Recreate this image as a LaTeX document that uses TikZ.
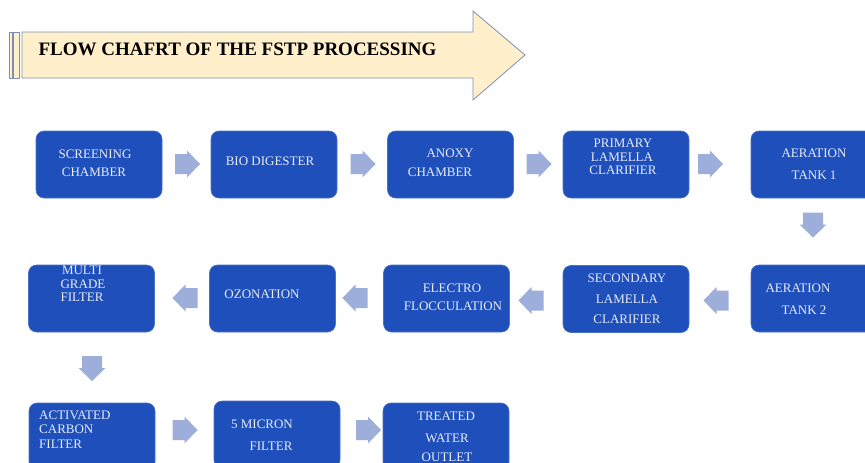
\documentclass[tikz,border=0pt]{standalone}
\usepackage{fontspec}
\setmainfont{Liberation Serif}
\definecolor{boxblue}{HTML}{1E4FBA}
\definecolor{boxedge}{HTML}{4A72C8}
\definecolor{arrfill}{HTML}{9DAEDA}
\definecolor{cream}{HTML}{FFEFCA}
\definecolor{titleedge}{HTML}{7C90B6}
\definecolor{boxtext}{HTML}{E8ECF7}
\tikzset{
  blockarr/.pic={\fill[arrfill] (-12.5,-10) -- (-0.5,-10) -- (-0.5,-13.5) -- (12.5,0) -- (-0.5,13.5) -- (-0.5,10) -- (-12.5,10) -- cycle;},
  procbox/.style={draw=boxedge, line width=0.6pt, fill=boxblue, rounded corners=8pt, minimum width=126pt, minimum height=67pt, inner sep=0pt},
  lbl/.style={text=boxtext, font=\fontsize{13}{15}\selectfont, inner sep=0pt},
  titleshape/.style={draw=titleedge, fill=cream, line width=0.8pt}
}
\begin{document}
\begin{tikzpicture}[x=1pt,y=-1pt]
\useasboundingbox[fill=white] (0,0) rectangle (865,463);
% title arrow
\draw[titleshape] (9,32) rectangle (12.3,78);
\draw[titleshape] (13.6,32) rectangle (19,78);
\draw[titleshape] (22,32) -- (473,32) -- (473,11) -- (525,55) -- (473,100) -- (473,78) -- (22,78) -- cycle;
\node[font=\bfseries\fontsize{19}{22}\selectfont, inner sep=0pt] (title) at (237.5,49.5) {FLOW CHAFRT OF THE FSTP PROCESSING};
% boxes
\node[procbox] (scr) at (99,164.5) {};
\node[procbox] (bio) at (274,164.5) {};
\node[procbox] (anx) at (450.5,164.5) {};
\node[procbox] (pri) at (626,164.5) {};
\node[procbox] (ae1) at (814,164.5) {};
\node[procbox] (ae2) at (814,298.5) {};
\node[procbox] (sec) at (626,299) {};
\node[procbox] (ele) at (446.5,298.5) {};
\node[procbox] (ozo) at (272.5,298.5) {};
\node[procbox] (mul) at (91.5,298.5) {};
\node[procbox] (act) at (92,436.5) {};
\node[procbox] (mic) at (277,434.5) {};
\node[procbox] (tre) at (446,436.5) {};
% labels
\node[lbl] (scr1) at (95,154) {SCREENING};
\node[lbl] (scr2) at (94,172) {CHAMBER};
\node[lbl] (bio1) at (270,161) {BIO DIGESTER};
\node[lbl] (anx1) at (450,153) {ANOXY};
\node[lbl] (anx2) at (440,172) {CHAMBER};
\node[lbl] (pri1) at (623,143) {PRIMARY};
\node[lbl] (pri2) at (622,157) {LAMELLA};
\node[lbl] (pri3) at (623,170) {CLARIFIER};
\node[lbl] (ae11) at (814,153) {AERATION};
\node[lbl] (ae12) at (814,175) {TANK 1};
\node[lbl] (ae21) at (798,288) {AERATION};
\node[lbl] (ae22) at (804,310) {TANK 2};
\node[lbl] (sec1) at (627,278) {SECONDARY};
\node[lbl] (sec2) at (627,299) {LAMELLA};
\node[lbl] (sec3) at (627,319) {CLARIFIER};
\node[lbl] (ele1) at (452,288) {ELECTRO};
\node[lbl] (ele2) at (453,306) {FLOCCULATION};
\node[lbl] (ozo1) at (262,294) {OZONATION};
\node[lbl] (mul1) at (82,270) {MULTI};
\node[lbl] (mul2) at (83,284) {GRADE};
\node[lbl] (mul3) at (82,297) {FILTER};
\node[lbl, anchor=west] (act1) at (39,415) {ACTIVATED};
\node[lbl, anchor=west] (act2) at (39,429) {CARBON};
\node[lbl, anchor=west] (act3) at (39,444) {FILTER};
\node[lbl] (mic1) at (262,424) {5 MICRON};
\node[lbl] (mic2) at (271,446) {FILTER};
\node[lbl] (tre1) at (446,416) {TREATED};
\node[lbl] (tre2) at (447,438) {WATER};
\node[lbl] (tre3) at (447,457.5) {OUTLET};
% block arrows
\pic at (187.5,164) {blockarr};
\pic at (363,164) {blockarr};
\pic at (539,164) {blockarr};
\pic at (710.5,164) {blockarr};
\pic[rotate=-90] at (813,225) {blockarr};
\pic[rotate=180] at (716,300.5) {blockarr};
\pic[rotate=180] at (531,300.5) {blockarr};
\pic[rotate=180] at (355,298) {blockarr};
\pic[rotate=180] at (185,298) {blockarr};
\pic[rotate=-90] at (92,368.5) {blockarr};
\pic at (185,430) {blockarr};
\pic at (368.5,430) {blockarr};
\end{tikzpicture}
\end{document}
